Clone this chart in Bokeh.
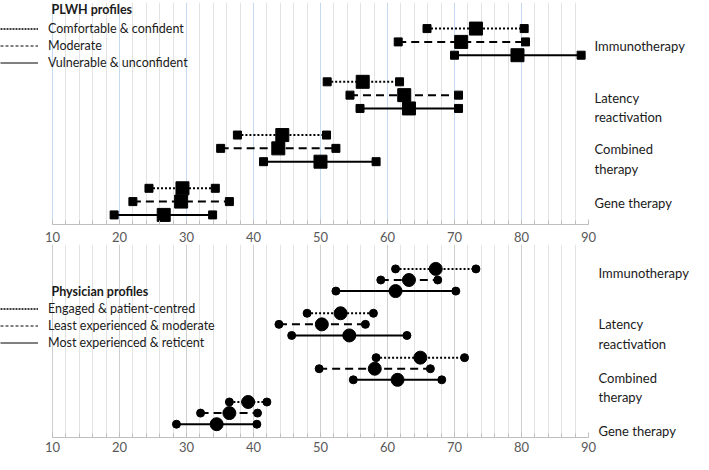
from bokeh.plotting import figure
from bokeh.models import Range1d, LinearAxis, FixedTicker, Legend, LegendItem, Label
from bokeh.layouts import column
from bokeh.embed import file_html
from bokeh.resources import INLINE

# ---------------- data ----------------
therapies = ["Immunotherapy", "Latency reactivation", "Combined therapy", "Gene therapy"]
therapy_tick_labels = ["Immunotherapy", "Latency\nreactivation", "Combined\ntherapy", "Gene therapy"]

plwh_profiles = ["Comfortable & confident", "Moderate", "Vulnerable & unconfident"]
plwh_cc_low = [65.9, 51.0, 37.6, 24.4]
plwh_cc_mean = [73.2, 56.3, 44.3, 29.4]
plwh_cc_high = [80.4, 61.8, 50.9, 34.3]
plwh_mod_low = [61.6, 54.4, 35.1, 22.0]
plwh_mod_mean = [71.0, 62.5, 43.7, 29.2]
plwh_mod_high = [80.6, 70.6, 52.3, 36.4]
plwh_vul_low = [70.0, 55.9, 41.5, 19.2]
plwh_vul_mean = [79.4, 63.2, 50.0, 26.6]
plwh_vul_high = [88.9, 70.6, 58.3, 33.9]

phys_profiles = ["Engaged & patient-centred", "Least experienced & moderate", "Most experienced & reticent"]
phys_epc_low = [61.2, 48.0, 58.3, 36.4]
phys_epc_mean = [67.2, 53.0, 64.9, 39.2]
phys_epc_high = [73.2, 57.9, 71.5, 42.0]
phys_lem_low = [59.0, 43.8, 49.8, 32.1]
phys_lem_mean = [63.2, 50.2, 58.1, 36.4]
phys_lem_high = [67.5, 56.7, 66.4, 40.6]
phys_mer_low = [52.3, 45.7, 54.9, 28.5]
phys_mer_mean = [61.2, 54.3, 61.5, 34.5]
phys_mer_high = [70.2, 62.9, 68.1, 40.5]

x_ticks = [10, 20, 30, 40, 50, 60, 70, 80, 90]

# ---------------- style / layout ----------------
FONT = "Lato"
dashes = ["2 2", "8 5", "solid"]
legend_dashes = ["2 1", "3 2", "solid"]
legend_widths = [1.3, 1, 1]
W = 693
RIGHT = 105
X_LEFT = 2.24   # frame extends left of 10 so the legend can sit beside the axis


def make_panel(height, min_top, y_start, y_end, lows, means, highs, profiles, title,
               marker, end_size, mid_size, major_grid_color, label_offsets,
               title_row, legend_vy, label_standoff, x_standoff):
    p = figure(width=W, height=height, output_backend="svg", toolbar_location=None,
               x_range=Range1d(X_LEFT, 90), y_range=Range1d(y_start, y_end),
               min_border_left=0, min_border_right=RIGHT,
               min_border_top=min_top, min_border_bottom=0)
    p.outline_line_color = None
    p.yaxis.visible = False
    p.ygrid.visible = False
    p.background_fill_color = "white"
    p.border_fill_color = "white"

    xa = p.xaxis[0]
    xa.ticker = FixedTicker(ticks=x_ticks, minor_ticks=list(range(10, 91, 2)))
    xa.bounds = (10, 90)
    xa.axis_line_color = "#bfbfbf"
    xa.major_tick_line_color = "#bfbfbf"
    xa.minor_tick_line_color = "#bfbfbf"
    xa.major_tick_in = 5
    xa.major_tick_out = 0
    xa.minor_tick_in = 4
    xa.minor_tick_out = 0
    xa.major_label_standoff = x_standoff
    xa.major_label_text_font = FONT
    xa.major_label_text_font_size = "13px"
    xa.major_label_text_color = "#595959"

    p.xgrid.grid_line_color = major_grid_color
    p.xgrid.minor_grid_line_color = "#e3e3e3"
    p.xgrid.grid_line_width = 1

    legend_items = []
    for k, (lo, mid, hi) in enumerate(zip(lows, means, highs)):
        ys = [4 * g + k + 1 for g in range(len(therapies))]
        p.segment(x0=lo, x1=hi, y0=ys, y1=ys, line_color="black", line_width=2,
                  line_dash=dashes[k])
        p.scatter(x=lo + hi, y=ys + ys, marker=marker, size=end_size,
                  fill_color="black", line_color="black")
        p.scatter(x=mid, y=ys, marker=marker, size=mid_size,
                  fill_color="black", line_color="black")
        # legend-only sample line, drawn outside the visible x range
        r = p.line(x=[-200, -190], y=ys[:2], line_color="black", line_width=legend_widths[k],
                   line_dash=legend_dashes[k])
        legend_items.append(LegendItem(label=profiles[k], renderers=[r]))

    legend = Legend(items=legend_items, location=(0, legend_vy), orientation="vertical",
                    glyph_width=38, glyph_height=17, label_height=17, label_standoff=10,
                    spacing=0, padding=0, margin=0, border_line_color=None,
                    background_fill_alpha=0, label_text_font=FONT,
                    label_text_font_size="12.5px", label_text_color="#1a1a1a")
    p.add_layout(legend, "center")

    p.add_layout(Label(x=10, y=title_row, text=title, text_font=FONT, text_font_size="12.5px",
                       text_font_style="bold", text_baseline="middle", text_align="left",
                       text_color="#1a1a1a", x_offset=-1))

    tick_pos = [4 * g + 2 + label_offsets[g] for g in range(len(therapies))]
    ra = LinearAxis(ticker=FixedTicker(ticks=tick_pos, minor_ticks=[]),
                    major_label_overrides={t: lab for t, lab in zip(tick_pos, therapy_tick_labels)},
                    axis_line_color=None, major_tick_line_color=None, minor_tick_line_color=None,
                    major_tick_in=0, major_tick_out=0,
                    major_label_standoff=label_standoff, major_label_text_font=FONT,
                    major_label_text_font_size="13px", major_label_text_color="#1a1a1a")
    p.add_layout(ra, "right")
    return p


top = make_panel(244, 2, 15.72, -0.96,
                 [plwh_cc_low, plwh_mod_low, plwh_vul_low],
                 [plwh_cc_mean, plwh_mod_mean, plwh_vul_mean],
                 [plwh_cc_high, plwh_mod_high, plwh_vul_high],
                 plwh_profiles, "PLWH profiles", "square", 8, 13, "#c5d9f1",
                 [0.3, 0.9, 0.8, 0.1], -0.41, 153, 6, 7)

bottom = make_panel(210, 0, 16.2, -1.2,
                    [phys_epc_low, phys_lem_low, phys_mer_low],
                    [phys_epc_mean, phys_lem_mean, phys_mer_mean],
                    [phys_epc_high, phys_lem_high, phys_mer_high],
                    phys_profiles, "Physician profiles", "circle", 8, 13, "#cfcfcf",
                    [-0.64, 0.87, 1.66, 1.63], 3.04, 86, 10, 4)

layout = column(top, bottom, spacing=0)
open("out.html", "w").write(file_html(layout, INLINE))
